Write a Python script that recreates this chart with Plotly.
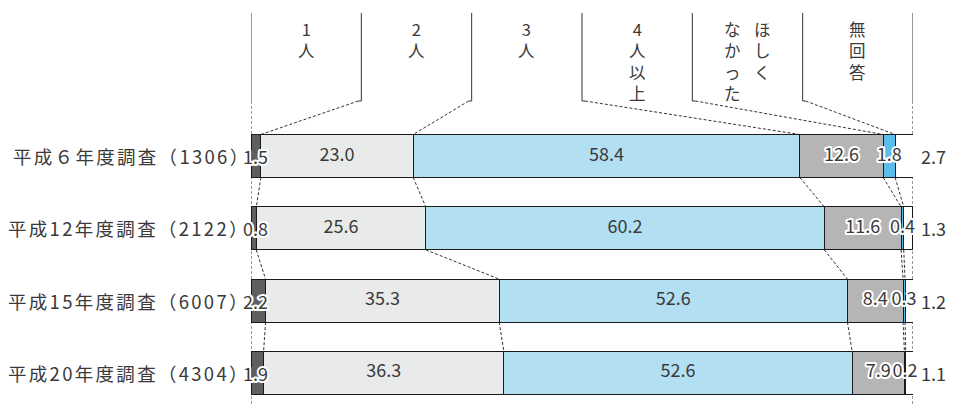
import plotly.graph_objects as go

# ---- data ----
rows = ["平成６年度調査（1306）", "平成12年度調査（2122）", "平成15年度調査（6007）", "平成20年度調査（4304）"]
categories = ["1人", "2人", "3人", "4人以上", "ほしくなかった", "無回答"]
one_person = [1.5, 0.8, 2.2, 1.9]
two_persons = [23.0, 25.6, 35.3, 36.3]
three_persons = [58.4, 60.2, 52.6, 52.6]
four_plus = [12.6, 11.6, 8.4, 7.9]
did_not_want = [1.8, 0.4, 0.3, 0.2]
no_answer = [2.7, 1.3, 1.2, 1.1]
series = [one_person, two_persons, three_persons, four_plus, did_not_want, no_answer]

colors = ["#5f5f5f", "#e9eaea", "#b3dff3", "#b5b5b5", "#5bbde9", "#ffffff"]
FONT = "Noto Sans CJK JP"
TXT = "#3a3a3a"

W, H = 963, 407
L, R = 251, 50
ROW0, STEP = 156.0, 72.33
BW = 43 / STEP


def py(p):  # pixel row -> y data
    return (p - ROW0) / STEP


def halo(s):
    return ('<span style="stroke:#ffffff;stroke-width:4px;paint-order:stroke;'
            f'stroke-linejoin:round">{s}</span>')


ypos = list(range(len(rows)))
fig = go.Figure()

# stacked bars
for k, (name, vals) in enumerate(zip(categories, series)):
    fig.add_trace(go.Bar(
        y=ypos, x=vals, orientation="h", name=name, width=BW,
        marker=dict(color=colors[k], line=dict(color="#1a1a1a", width=1)),
        hoverinfo="x+name", showlegend=False,
    ))

# cumulative boundaries
cums = []
for i in range(len(rows)):
    c = [0.0]
    for s in series:
        c.append(c[-1] + s[i])
    c[-1] = 100.0
    cums.append(c)

# in-bar labels (segments 2..5)
lx, ly, lt = [], [], []
for k in range(1, 5):
    for i in range(len(rows)):
        lx.append((cums[i][k] + cums[i][k + 1]) / 2)
        ly.append(i)
        v = f"{series[k][i]:.1f}"
        lt.append(halo(v) if k >= 3 else v)
fig.add_trace(go.Scatter(
    x=lx, y=ly, text=lt, mode="text", textposition="middle center",
    textfont=dict(family=FONT, size=18, color=TXT),
    hoverinfo="skip", showlegend=False, cliponaxis=False,
))

ann = []
for i in range(len(rows)):
    # 1人 labels, left aligned at bar start
    ann.append(dict(x=0, y=i, xref="x", yref="y", text=halo(f"{one_person[i]:.1f}"),
                    xanchor="left", yanchor="middle", xshift=-10, showarrow=False,
                    font=dict(family=FONT, size=18, color=TXT)))
    # 無回答 labels outside
    ann.append(dict(x=100, y=i, xref="x", yref="y", text=f"{no_answer[i]:.1f}",
                    xanchor="left", yanchor="middle", xshift=6, showarrow=False,
                    font=dict(family=FONT, size=18, color=TXT)))
    # row labels
    ann.append(dict(x=0, y=i, xref="paper", yref="y",
                    text=f'<span style="letter-spacing:2.3px">{rows[i]}</span>',
                    xanchor="right", yanchor="middle", xshift=1, showarrow=False,
                    font=dict(family=FONT, size=18.5, color=TXT)))

# header texts (vertical)
ncol = len(categories)
colw = 100 / ncol
header_cols = {
    0: [(0.0, "1人")], 1: [(0.0, "2人")], 2: [(0.0, "3人")], 3: [(0.0, "4人以上")],
    4: [(2.3, "ほしく"), (-2.3, "なかった")], 5: [(0.0, "無回答")],
}
for c, parts in header_cols.items():
    xc = colw * (c + 0.5)
    for dx, s in parts:
        ann.append(dict(x=xc + dx, y=py(15), xref="x", yref="y", text="<br>".join(s),
                        xanchor="center", yanchor="top", align="center", showarrow=False,
                        font=dict(family=FONT, size=16.5, color=TXT)))
ann.append(dict(x=104.2, y=py(26), xref="x", yref="y", text="（%）", xanchor="center",
                yanchor="middle", showarrow=False, font=dict(family=FONT, size=18, color=TXT)))
ann.append(dict(x=-7.4, y=py(115), xref="x", yref="y", text="n", xanchor="center",
                yanchor="middle", showarrow=False, font=dict(family=FONT, size=19, color=TXT)))

shapes = []
LC = "#333333"
DASH = "3px,2px"
top, hb = py(13), py(101)
# header vertical lines
for j in range(ncol + 1):
    x = colw * j
    shapes.append(dict(type="line", xref="x", yref="y", x0=x, x1=x, y0=top, y1=hb,
                       line=dict(color=LC, width=1), layer="below"))
# outer dashed edges
for x in (0, 100):
    shapes.append(dict(type="line", xref="x", yref="y", x0=x, x1=x, y0=hb, y1=py(405),
                       line=dict(color=LC, width=1, dash=DASH), layer="below"))
# header -> first row connectors
for j in range(1, ncol):
    x = colw * j
    tx = cums[0][j]
    st = -0.45 if tx < x else 0.45
    shapes.append(dict(type="line", xref="x", yref="y", x0=x, x1=x + st, y0=hb, y1=hb,
                       line=dict(color=LC, width=1), layer="below"))
    shapes.append(dict(type="line", xref="x", yref="y", x0=x + st, x1=tx, y0=hb, y1=-BW / 2,
                       line=dict(color=LC, width=1, dash=DASH), layer="below"))
# row -> row connectors
for i in range(len(rows) - 1):
    for k in range(1, ncol):
        shapes.append(dict(type="line", xref="x", yref="y",
                           x0=cums[i][k], y0=i + BW / 2, x1=cums[i + 1][k], y1=i + 1 - BW / 2,
                           line=dict(color=LC, width=1, dash=DASH), layer="below"))

fig.update_layout(
    width=W, height=H, barmode="stack",
    margin=dict(l=L, r=R, t=0, b=0, pad=0),
    paper_bgcolor="white", plot_bgcolor="white",
    xaxis=dict(range=[0, 100], visible=False, fixedrange=True),
    yaxis=dict(range=[py(H), py(0)], visible=False, fixedrange=True),
    annotations=ann, shapes=shapes, showlegend=False,
    font=dict(family=FONT, color=TXT),
)
fig.write_html("out.html")
